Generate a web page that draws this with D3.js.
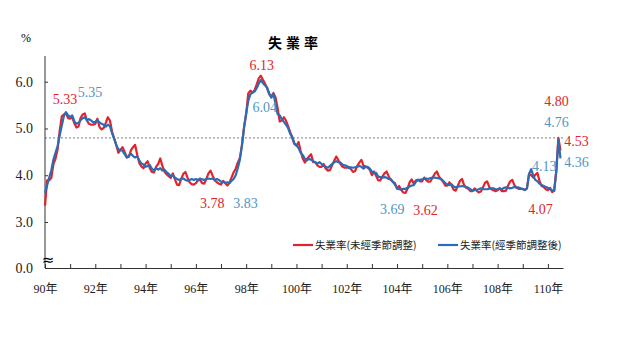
<!DOCTYPE html>
<html>
<head>
<meta charset="utf-8">
<script src="https://cdn.jsdelivr.net/npm/d3@7"></script>
<style>
  body { margin: 0; background: #fff; }
  text { font-family: "Liberation Serif", "Noto Sans CJK TC", serif; }
</style>
</head>
<body>
<div id="plot"></div>
<script>
// monthly unemployment rate, 90年1月 .. 110年7月
const startYear = 90;
const unadjusted = [
  3.35, 3.89, 3.89, 3.94, 4.23, 4.35, 4.55, 4.95, 5.26, 5.30, 5.33, 5.22, // 90
  5.21, 5.24, 5.11, 5.02, 5.04, 5.23, 5.30, 5.32, 5.17, 5.10, 5.08, 5.08, // 91
  5.10, 5.21, 5.03, 4.98, 5.01, 5.12, 5.24, 5.17, 4.93, 4.79, 4.65, 4.48, // 92
  4.54, 4.60, 4.50, 4.38, 4.39, 4.53, 4.60, 4.65, 4.44, 4.26, 4.19, 4.15, // 93
  4.25, 4.30, 4.15, 4.07, 4.06, 4.18, 4.24, 4.36, 4.20, 4.08, 4.02, 3.98, // 94
  3.94, 4.04, 3.91, 3.80, 3.79, 3.92, 4.03, 4.07, 3.95, 3.85, 3.81, 3.80, // 95
  3.83, 3.89, 3.90, 3.83, 3.82, 3.92, 4.04, 4.10, 3.99, 3.89, 3.85, 3.82, // 96
  3.80, 3.88, 3.83, 3.78, 3.84, 3.95, 4.06, 4.14, 4.27, 4.37, 4.64, 5.03, // 97
  5.31, 5.75, 5.81, 5.76, 5.82, 5.94, 6.07, 6.13, 6.04, 5.96, 5.86, 5.74, // 98
  5.68, 5.76, 5.67, 5.44, 5.15, 5.17, 5.24, 5.17, 5.05, 4.92, 4.80, 4.67, // 99
  4.63, 4.71, 4.52, 4.36, 4.27, 4.35, 4.40, 4.45, 4.28, 4.28, 4.21, 4.18, // 100
  4.18, 4.24, 4.14, 4.10, 4.11, 4.21, 4.31, 4.40, 4.32, 4.24, 4.18, 4.16, // 101
  4.16, 4.18, 4.13, 4.07, 4.09, 4.20, 4.27, 4.33, 4.20, 4.19, 4.16, 4.12, // 102
  4.00, 4.08, 3.99, 3.89, 3.89, 3.97, 4.04, 4.08, 3.98, 3.90, 3.86, 3.83, // 103
  3.71, 3.77, 3.69, 3.63, 3.62, 3.71, 3.85, 3.91, 3.82, 3.89, 3.90, 3.87, // 104
  3.87, 3.95, 3.89, 3.86, 3.87, 3.95, 4.03, 4.08, 3.97, 3.92, 3.86, 3.78, // 105
  3.78, 3.85, 3.78, 3.69, 3.67, 3.77, 3.88, 3.92, 3.79, 3.73, 3.71, 3.66, // 106
  3.66, 3.72, 3.67, 3.63, 3.65, 3.74, 3.84, 3.87, 3.75, 3.70, 3.68, 3.66, // 107
  3.68, 3.72, 3.66, 3.66, 3.67, 3.78, 3.87, 3.90, 3.79, 3.73, 3.71, 3.71, // 108
  3.70, 3.69, 3.72, 4.03, 4.00, 3.95, 4.01, 4.05, 3.87, 3.77, 3.75, 3.70, // 109
  3.68, 3.73, 3.64, 3.67, 4.11, 4.80, 4.53                                // 110
];
const adjusted = [
  3.62, 3.78, 3.95, 4.10, 4.33, 4.48, 4.62, 4.85, 5.06, 5.26, 5.35, 5.28,
  5.25, 5.28, 5.15, 5.10, 5.12, 5.18, 5.22, 5.24, 5.18, 5.20, 5.17, 5.13,
  5.14, 5.18, 5.13, 5.10, 5.08, 5.04, 5.08, 5.05, 4.90, 4.78, 4.65, 4.55,
  4.55, 4.52, 4.45, 4.38, 4.42, 4.46, 4.41, 4.38, 4.40, 4.32, 4.25, 4.23,
  4.18, 4.20, 4.22, 4.14, 4.10, 4.15, 4.12, 4.15, 4.10, 4.12, 4.07, 4.03,
  3.98, 4.00, 3.95, 3.92, 3.90, 3.92, 3.93, 3.90, 3.88, 3.90, 3.92, 3.90,
  3.92, 3.90, 3.93, 3.91, 3.90, 3.92, 3.93, 3.92, 3.93, 3.90, 3.92, 3.90,
  3.86, 3.86, 3.84, 3.85, 3.83, 3.88, 3.92, 4.00, 4.15, 4.33, 4.65, 5.03,
  5.32, 5.59, 5.73, 5.77, 5.79, 5.86, 5.96, 6.04, 5.97, 5.92, 5.88, 5.74,
  5.66, 5.74, 5.53, 5.31, 5.28, 5.20, 5.14, 5.08, 5.01, 4.89, 4.82, 4.68,
  4.64, 4.58, 4.48, 4.43, 4.35, 4.32, 4.35, 4.33, 4.30, 4.28, 4.25, 4.28,
  4.24, 4.20, 4.18, 4.16, 4.20, 4.24, 4.28, 4.30, 4.28, 4.27, 4.23, 4.21,
  4.20, 4.15, 4.17, 4.16, 4.17, 4.18, 4.20, 4.18, 4.14, 4.18, 4.18, 4.14,
  4.08, 4.04, 4.05, 3.97, 3.96, 3.95, 3.96, 3.95, 3.92, 3.92, 3.86, 3.80,
  3.73, 3.70, 3.69, 3.71, 3.71, 3.73, 3.76, 3.78, 3.79, 3.86, 3.90, 3.90,
  3.91, 3.92, 3.93, 3.92, 3.94, 3.95, 3.95, 3.94, 3.93, 3.92, 3.88, 3.83,
  3.80, 3.79, 3.81, 3.76, 3.74, 3.76, 3.76, 3.77, 3.76, 3.75, 3.73, 3.70,
  3.67, 3.68, 3.69, 3.70, 3.72, 3.70, 3.70, 3.70, 3.71, 3.72, 3.72, 3.70,
  3.70, 3.72, 3.70, 3.73, 3.74, 3.73, 3.72, 3.73, 3.75, 3.74, 3.74, 3.72,
  3.71, 3.68, 3.72, 4.03, 4.13, 3.99, 3.90, 3.87, 3.82, 3.79, 3.77, 3.75,
  3.73, 3.70, 3.68, 3.67, 4.07, 4.76, 4.36
];
const yearTicks = d3.range(90, 111);
const yTicks = [0, 3, 4, 5, 6];
const refLevel = 4.8;
const seriesNames = ["失業率(未經季節調整)", "失業率(經季節調整後)"];
// labelled points: series, month index, value text
const labels = [
  ["u", 10, "5.33"], ["a", 10, "5.35"],
  ["u", 103, "6.13"], ["a", 103, "6.04"],
  ["u", 87, "3.78"], ["a", 88, "3.83"],
  ["a", 170, "3.69"], ["u", 172, "3.62"],
  ["u", 235, "4.07"], ["a", 232, "4.13"],
  ["u", 245, "4.80"], ["a", 245, "4.76"],
  ["u", 246, "4.53"], ["a", 246, "4.36"]
];
const labelOffsets = [
  [-1, -9], [24, -15], [1, -6], [4, 32], [-15, 22], [16, 25],
  [-9, 24], [20, 22], [3, 42], [13, 2], [-2, -32], [-2, -13], [16, -4], [16, 9]
];

const width = 640, height = 360;
const red = "#e3232b", blue = "#2b6db5", blueText = "#4f97c2";

const svg = d3.select("#plot").append("svg").attr("width", width).attr("height", height);

const x = d3.scaleLinear().domain([90, 110.6]).range([45, 563]);
// broken axis: 0 sits one step below 3
const y = d3.scaleLinear().domain([0, 3, 6.55]).range([268, 222, 56]);
const t = i => startYear + i / 12;

// title and unit
svg.append("text").attr("x", 295).attr("y", 48).attr("text-anchor", "middle")
  .style("font-family", "'Noto Sans CJK TC'").style("font-size", "14px").style("font-weight", "bold")
  .style("letter-spacing", "4px").text("失業率");
svg.append("text").attr("x", 26).attr("y", 42).attr("text-anchor", "middle").style("font-size", "12px").text("%");

// dotted reference line
svg.append("line").attr("x1", x(90)).attr("x2", x(110.6)).attr("y1", y(refLevel)).attr("y2", y(refLevel))
  .attr("stroke", "#9a9a9a").attr("stroke-width", 1.2).attr("stroke-dasharray", "2,2");

// axes
const xAxis = d3.axisBottom(x).tickValues(yearTicks).tickSizeInner(-4).tickSizeOuter(0).tickPadding(16)
  .tickFormat(d => (d % 2 === 0 ? d + "年" : ""));
const gx = svg.append("g").attr("transform", `translate(0,${y(0)})`).call(xAxis);
gx.selectAll("text").style("font-size", "12px").attr("fill", "#222");

const yAxis = d3.axisLeft(y).tickValues(yTicks).tickSizeInner(-3).tickSizeOuter(0).tickPadding(12).tickFormat(d3.format(".1f"));
const gy = svg.append("g").attr("transform", `translate(${x(90)},0)`).call(yAxis);
gy.selectAll("text").style("font-size", "14px").attr("fill", "#222");
gy.select(".domain").attr("d", `M0,${y(6.55)}V${y(0)}`);
gx.selectAll(".domain, .tick line").attr("stroke", "#333");
gy.selectAll(".domain, .tick line").attr("stroke", "#333");

// axis break mark
svg.append("text").attr("x", x(90) + 3).attr("y", 265).attr("text-anchor", "middle")
  .style("font-size", "15px").style("font-family", "'DejaVu Sans'").text("≈");

// lines
const line = d3.line().x((d, i) => x(t(i))).y(d => y(d));
svg.append("path").datum(unadjusted).attr("d", line).attr("fill", "none")
  .attr("stroke", red).attr("stroke-width", 2.2).attr("stroke-linejoin", "round");
svg.append("path").datum(adjusted).attr("d", line).attr("fill", "none")
  .attr("stroke", blue).attr("stroke-width", 2.2).attr("stroke-linejoin", "round");

// value labels
svg.append("g").selectAll("text").data(labels).join("text")
  .attr("x", (d, i) => x(t(d[1])) + labelOffsets[i][0])
  .attr("y", (d, i) => y(+d[2]) + labelOffsets[i][1])
  .attr("text-anchor", "middle").style("font-size", "14px")
  .attr("fill", d => (d[0] === "u" ? red : blueText))
  .text(d => d[2]);

// legend
const legend = svg.append("g").selectAll("g").data(seriesNames).join("g")
  .attr("transform", (d, i) => `translate(${293 + i * 145},245)`);
legend.append("line").attr("x1", 0).attr("x2", 20).attr("stroke", (d, i) => (i ? blue : red)).attr("stroke-width", 2.2);
legend.append("text").attr("x", 22).attr("y", 4).style("font-size", "10.5px")
  .style("font-family", "'Noto Sans CJK TC'").attr("fill", "#222").text(d => d);
</script>
</body>
</html>
